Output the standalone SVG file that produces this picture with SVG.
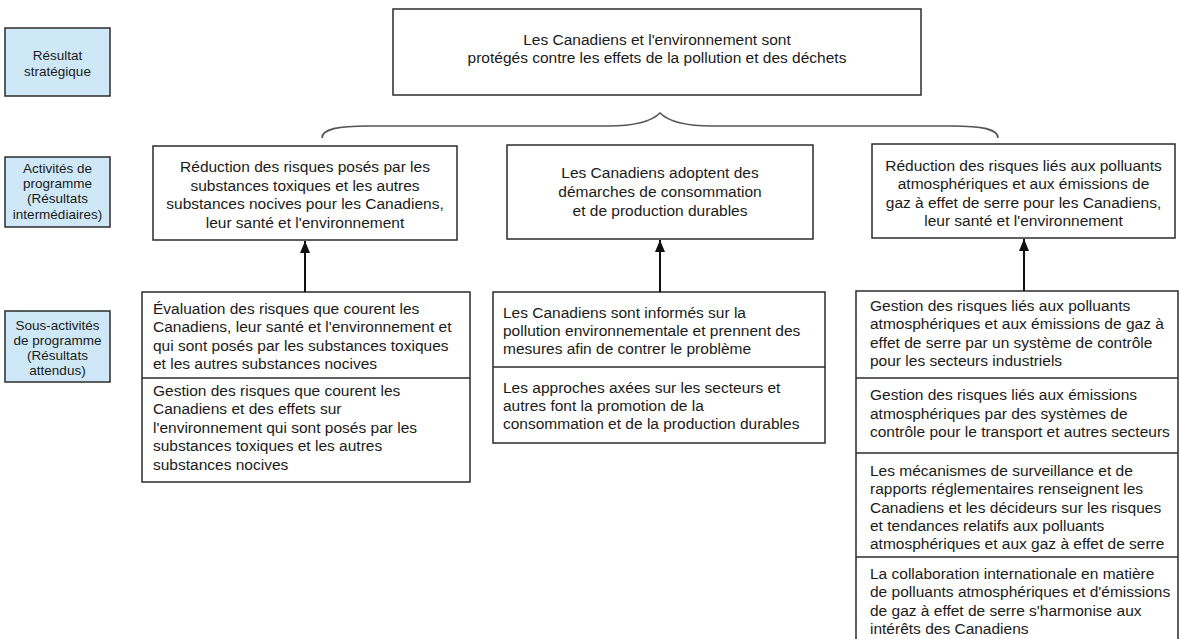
<svg xmlns="http://www.w3.org/2000/svg" width="1180" height="639" viewBox="0 0 1180 639">
<style>
  .bg { fill: #ffffff; }
  .box { fill: #ffffff; stroke: #2b2b2b; stroke-width: 1.5; }
  .lbl { fill: #cfe8f7; stroke: #2b2b2b; stroke-width: 1.5; }
  .div { stroke: #2b2b2b; stroke-width: 1.5; }
  .t { font-family: "Liberation Sans", Arial, sans-serif; font-size: 15.5px; fill: #1a1a1a; }
  .c { text-anchor: middle; }
  .lt { font-family: "Liberation Sans", Arial, sans-serif; font-size: 13.5px; fill: #1a1a1a; text-anchor: middle; }
  .arr { stroke: #111; stroke-width: 2; fill: none; marker-end: url(#ah); }
  .brace { stroke: #555; stroke-width: 1.6; fill: none; }
</style>
<defs>
  <marker id="ah" markerWidth="13" markerHeight="10" refX="12" refY="5" orient="auto" markerUnits="userSpaceOnUse" viewBox="0 0 13 10">
    <path d="M0,0 L12,5 L0,10 Z" fill="#111"/>
  </marker>
</defs>
<rect class="bg" x="0" y="0" width="1180" height="639"/>

<g id="label-strategique">
  <rect class="lbl" x="5" y="28" width="105" height="68"/>
  <text class="lt" x="57.5" y="60">Résultat</text>
  <text class="lt" x="57.5" y="75.5">stratégique</text>
</g>
<g id="label-activites">
  <rect class="lbl" x="5" y="157" width="105" height="70"/>
  <text class="lt" x="57.5" y="173">Activités de</text>
  <text class="lt" x="57.5" y="188">programme</text>
  <text class="lt" x="57.5" y="203">(Résultats</text>
  <text class="lt" x="57.5" y="219">intermédiaires)</text>
</g>
<g id="label-sous-activites">
  <rect class="lbl" x="5" y="311" width="105" height="71"/>
  <text class="lt" x="57.5" y="330">Sous-activités</text>
  <text class="lt" x="57.5" y="345">de programme</text>
  <text class="lt" x="57.5" y="360">(Résultats</text>
  <text class="lt" x="57.5" y="375">attendus)</text>
</g>

<g id="top">
  <rect class="box" x="393" y="9" width="528" height="86"/>
  <text class="t c" x="657" y="45">Les Canadiens et l'environnement sont</text>
  <text class="t c" x="657" y="63">protégés contre les effets de la pollution et des déchets</text>
</g>

<g id="activite-A">
  <rect class="box" x="153" y="146" width="304" height="94"/>
  <text class="t c" x="305" y="172">Réduction des risques posés par les</text>
  <text class="t c" x="305" y="190.5">substances toxiques et les autres</text>
  <text class="t c" x="305" y="209">substances nocives pour les Canadiens,</text>
  <text class="t c" x="305" y="227.5">leur santé et l'environnement</text>
</g>
<g id="activite-B">
  <rect class="box" x="507" y="145" width="306" height="94"/>
  <text class="t c" x="660" y="178">Les Canadiens adoptent des</text>
  <text class="t c" x="660" y="197">démarches de consommation</text>
  <text class="t c" x="660" y="216">et de production durables</text>
</g>
<g id="activite-C">
  <rect class="box" x="872" y="144" width="303" height="94"/>
  <text class="t c" x="1023.5" y="170.5">Réduction des risques liés aux polluants</text>
  <text class="t c" x="1023.5" y="189">atmosphériques et aux émissions de</text>
  <text class="t c" x="1023.5" y="207.5">gaz à effet de serre pour les Canadiens,</text>
  <text class="t c" x="1023.5" y="226">leur santé et l'environnement</text>
</g>

<g id="sous-A">
  <rect class="box" x="142" y="292" width="328" height="190"/>
  <line class="div" x1="142" y1="378" x2="470" y2="378"/>
  <text class="t" x="153" y="313.5">Évaluation des risques que courent les</text>
  <text class="t" x="153" y="332">Canadiens, leur santé et l'environnement et</text>
  <text class="t" x="153" y="350.5">qui sont posés par les substances toxiques</text>
  <text class="t" x="153" y="369">et les autres substances nocives</text>
  <text class="t" x="153" y="395.5">Gestion des risques que courent les</text>
  <text class="t" x="153" y="414">Canadiens et des effets sur</text>
  <text class="t" x="153" y="432.5">l'environnement qui sont posés par les</text>
  <text class="t" x="153" y="451">substances toxiques et les autres</text>
  <text class="t" x="153" y="469.5">substances nocives</text>
</g>
<g id="sous-B">
  <rect class="box" x="493" y="292" width="332" height="151"/>
  <line class="div" x1="493" y1="367" x2="825" y2="367"/>
  <text class="t" x="503" y="317.5">Les Canadiens sont informés sur la</text>
  <text class="t" x="503" y="336">pollution environnementale et prennent des</text>
  <text class="t" x="503" y="354">mesures afin de contrer le problème</text>
  <text class="t" x="503" y="392.5">Les approches axées sur les secteurs et</text>
  <text class="t" x="503" y="411">autres font la promotion de la</text>
  <text class="t" x="503" y="429">consommation et de la production durables</text>
</g>
<g id="sous-C">
  <rect class="box" x="856" y="291" width="322" height="360"/>
  <line class="div" x1="856" y1="378" x2="1178" y2="378"/>
  <line class="div" x1="856" y1="453" x2="1178" y2="453"/>
  <line class="div" x1="856" y1="557" x2="1178" y2="557"/>
  <text class="t" x="870" y="310.5">Gestion des risques liés aux polluants</text>
  <text class="t" x="870" y="329">atmosphériques et aux émissions de gaz à</text>
  <text class="t" x="870" y="347.5">effet de serre par un système de contrôle</text>
  <text class="t" x="870" y="366">pour les secteurs industriels</text>
  <text class="t" x="870" y="400">Gestion des risques liés aux émissions</text>
  <text class="t" x="870" y="418.5">atmosphériques par des systèmes de</text>
  <text class="t" x="870" y="437">contrôle pour le transport et autres secteurs</text>
  <text class="t" x="870" y="475.5">Les mécanismes de surveillance et de</text>
  <text class="t" x="870" y="494">rapports réglementaires renseignent les</text>
  <text class="t" x="870" y="512.5">Canadiens et les décideurs sur les risques</text>
  <text class="t" x="870" y="531">et tendances relatifs aux polluants</text>
  <text class="t" x="870" y="549">atmosphériques et aux gaz à effet de serre</text>
  <text class="t" x="870" y="578.5">La collaboration internationale en matière</text>
  <text class="t" x="870" y="597">de polluants atmosphériques et d'émissions</text>
  <text class="t" x="870" y="615.5">de gaz à effet de serre s'harmonise aux</text>
  <text class="t" x="870" y="634">intérêts des Canadiens</text>
</g>

<g id="connectors">
  <path class="brace" d="M322,138 C322,129 338,126 368,126 L608,126 C638,126 652,121 660,113 C668,121 682,126 712,126 L952,126 C982,126 998,129 998,138"/>
  <line class="arr" x1="305" y1="292" x2="305" y2="241"/>
  <line class="arr" x1="660" y1="292" x2="660" y2="240"/>
  <line class="arr" x1="1024" y1="291" x2="1024" y2="239"/>
</g>
</svg>
